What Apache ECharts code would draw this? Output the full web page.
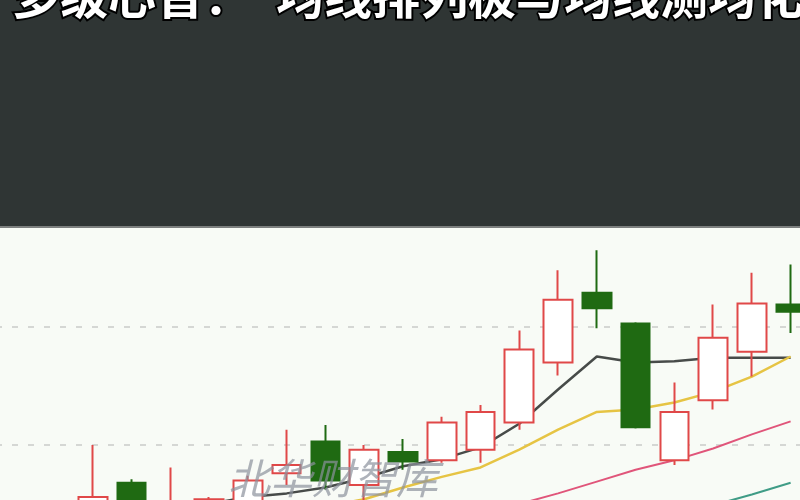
<!DOCTYPE html>
<html><head><meta charset="utf-8">
<script src="https://cdn.jsdelivr.net/npm/echarts@6/dist/echarts.min.js"></script>
<style>html,body{margin:0;padding:0;background:#f8fbf6;overflow:hidden;width:800px;height:500px}#c{width:814px;height:563px;margin-left:-4px}</style>
</head><body><div id="c"></div>
<script>
// two leading sessions lie below the visible window (values unseen)
const categories = ['D-1','D00','D01','D02','D03','D04','D05','D06','D07','D08','D09','D10','D11','D12','D13','D14','D15','D16','D17','D18','D19'];
// [open, close, low, high]
const opens  = [null, null, 9.41, 9.68, 9.28, 9.19, 9.36, 9.76, 10.03, 9.66, 9.94, 9.87, 9.96, 10.19, 10.70, 11.29, 11.03, 9.87, 10.38, 10.79, 11.19];
const closes = [null, null, 9.56, 9.36, 9.49, 9.54, 9.70, 9.83, 9.70, 9.96, 9.86, 10.19, 10.28, 10.81, 11.23, 11.16, 10.15, 10.28, 10.91, 11.20, 11.13];
const lows   = [null, null, 9.35, 9.32, 9.24, 9.15, 9.30, 9.66, 9.62, 9.53, 9.79, 9.85, 9.85, 10.13, 10.59, 10.99, 10.14, 9.83, 10.30, 10.58, 10.95];
const highs  = [null, null, 10.00, 9.71, 9.81, 9.56, 9.74, 10.13, 10.17, 10.00, 10.05, 10.24, 10.34, 10.97, 11.48, 11.65, 11.04, 10.53, 11.19, 11.46, 11.53];
const maGray   = [null, null, null, null, null, 9.50, 9.56, 9.59, 9.64, 9.72, 9.82, 9.88, 9.98, 10.18, 10.47, 10.75, 10.70, 10.71, 10.74, 10.74, 10.74];
const maYellow = [null, null, null, null, null, null, null, null, 9.48, 9.54, 9.64, 9.73, 9.81, 9.96, 10.13, 10.28, 10.30, 10.36, 10.45, 10.58, 10.75];
const maPink   = [null, null, null, null, null, null, null, null, null, null, null, null, 9.42, 9.50, 9.59, 9.69, 9.79, 9.87, 9.97, 10.09, 10.20];
const maTeal   = [null, null, null, null, null, null, null, null, null, null, null, null, null, null, null, null, null, 9.40, 9.49, 9.58, 9.68];
const titleText = '多级心音：　均线排列极与均线测均化';
const watermark = '北华财智库';

const kData = categories.map((c, i) => opens[i] == null ? ['-', '-', '-', '-'] : [opens[i], closes[i], lows[i], highs[i]]);
const chart = echarts.init(document.getElementById('c'));
const line = (data, color, w) => ({
  type: 'line', data, symbol: 'none', smooth: false, z: 3,
  lineStyle: { color, width: w }, itemStyle: { color }
});
chart.setOption({
  backgroundColor: '#f8fbf6',
  animation: false,
  grid: { left: 0, right: 0, top: 226, bottom: 0 },
  xAxis: { type: 'category', data: categories, boundaryGap: true,
    axisLine: { show: false }, axisTick: { show: false }, axisLabel: { show: false }, splitLine: { show: false } },
  yAxis: { type: 'value', min: 9, max: 11.856, interval: 1,
    axisLine: { show: false }, axisTick: { show: false }, axisLabel: { show: false },
    splitLine: { show: true, lineStyle: { color: '#c9cbc9', width: 1.5, type: [6, 10] } } },
  series: [
    { type: 'candlestick', data: kData, barWidth: '75%', z: 4,
      itemStyle: { color: '#ffffff', color0: '#1f6a12', borderColor: '#e04848', borderColor0: '#1f6a12', borderWidth: 2 } },
    line(maGray, '#474b49', 2.5),
    line(maYellow, '#e6c444', 2.5),
    line(maPink, '#e0557a', 2),
    line(maTeal, '#3f9c86', 2)
  ],
  graphic: [
    { type: 'rect', z: 100, shape: { x: 0, y: 0, width: 814, height: 226 }, style: { fill: '#2f3534' } },
    { type: 'rect', z: 100, shape: { x: 0, y: 226, width: 814, height: 2 }, style: { fill: '#7d807f' } },
    { type: 'text', z: 101, x: 16, y: 20, style: { text: titleText, fill: '#ffffff', stroke: '#000000', lineWidth: 4,
        font: 'bold 48px "Noto Sans CJK SC"', textVerticalAlign: 'bottom', textAlign: 'left' } },
    { type: 'text', z: 101, x: 232, y: 478, style: { text: watermark, fill: 'rgba(140,146,156,0.7)',
        font: 'italic 42px "Noto Sans CJK SC"', textVerticalAlign: 'middle', textAlign: 'left' } }
  ]
});
</script></body></html>
